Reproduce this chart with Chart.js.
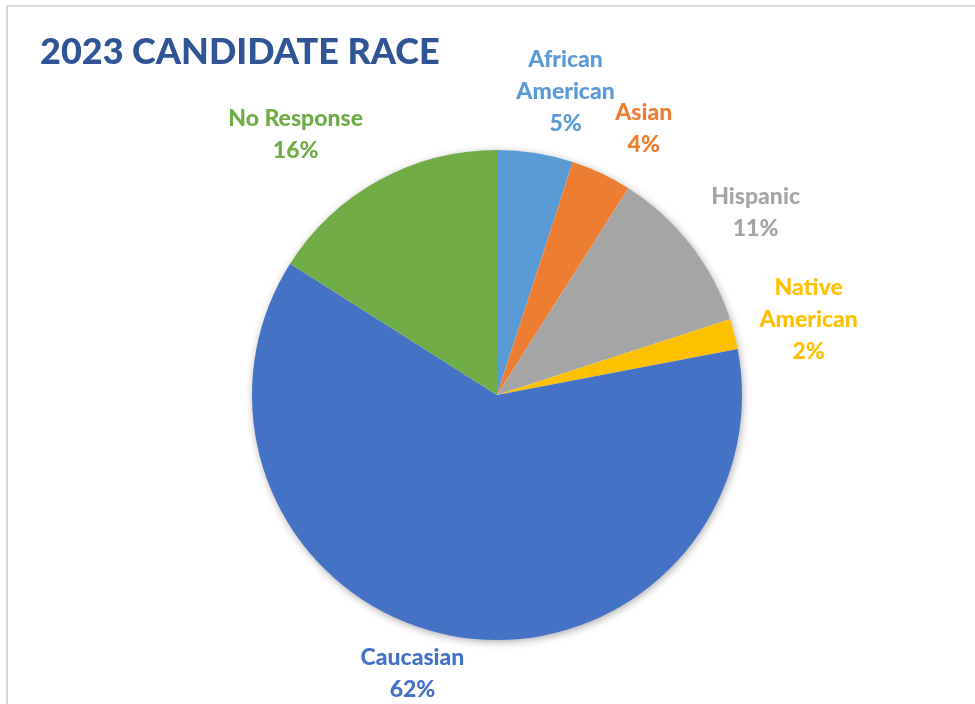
<!DOCTYPE html>
<html>
<head>
<meta charset="utf-8">
<script src="https://cdn.jsdelivr.net/npm/chart.js@4/dist/chart.umd.min.js"></script>
<style>
  html, body { margin: 0; padding: 0; background: #fff; overflow: hidden; }
  .frame {
    position: absolute; left: 6px; top: 5px;
    width: 1200px; height: 900px;
    border: 2px solid #d9d9d9;
  }
  #raceChart { position: absolute; left: 0; top: 0; }
</style>
</head>
<body>
<div class="frame"></div>
<canvas id="raceChart" width="975" height="704"></canvas>
<script>
// ---------------- data ----------------
var categories = ["African American", "Asian", "Hispanic", "Native American", "Caucasian", "No Response"];
var shares = [5, 4, 11, 2, 62, 16];
var labelLines = [["African", "American"], ["Asian"], ["Hispanic"], ["Native", "American"], ["Caucasian"], ["No Response"]];
var sliceColors = ["#5B9BD5", "#ED7D31", "#A5A5A5", "#FFC000", "#4472C4", "#70AD47"];

// small nudges for the outside labels (excel "best fit" placement)
var labelNudge = [[21, -4], [26, -7], [22, -7], [17, 0], [-27, -3], [-46, -9]];

var FONT = "Lato, 'Open Sans', sans-serif";

// ---------------- plugins ----------------
// soft shadow under the whole pie
var pieShadow = {
  id: "pieShadow",
  beforeDatasetsDraw: function (chart) {
    var arc = chart.getDatasetMeta(0).data[0];
    if (!arc) return;
    var ctx = chart.ctx;
    ctx.save();
    ctx.shadowColor = "rgba(0,0,0,0.35)";
    ctx.shadowBlur = 9;
    ctx.shadowOffsetX = 1;
    ctx.shadowOffsetY = 2;
    ctx.fillStyle = "#fff";
    ctx.beginPath();
    ctx.arc(arc.x, arc.y, arc.outerRadius - 0.5, 0, Math.PI * 2);
    ctx.fill();
    ctx.restore();
  },
};

// title + category labels outside each slice
var pieLabels = {
  id: "pieLabels",
  afterDatasetsDraw: function (chart) {
    var ctx = chart.ctx;
    var meta = chart.getDatasetMeta(0);
    ctx.save();

    ctx.fillStyle = "#2F5597";
    ctx.font = "900 36px " + FONT;
    ctx.textAlign = "left";
    ctx.textBaseline = "alphabetic";
    ctx.fillText("2023 CANDIDATE RACE", 40, 64);

    ctx.font = "900 23px " + FONT;
    ctx.textAlign = "center";
    ctx.textBaseline = "middle";
    var lineH = 32;
    meta.data.forEach(function (arc, i) {
      var lines = labelLines[i].concat([shares[i] + "%"]);
      var w = 0;
      lines.forEach(function (t) { w = Math.max(w, ctx.measureText(t).width); });
      var h = lines.length * lineH;
      var mid = (arc.startAngle + arc.endAngle) / 2;
      var dx = Math.cos(mid), dy = Math.sin(mid);
      var r = arc.outerRadius + 10;
      var cx = arc.x + r * dx + dx * w / 2 + labelNudge[i][0];
      var cy = arc.y + r * dy + dy * h / 2 + labelNudge[i][1];
      ctx.fillStyle = sliceColors[i];
      lines.forEach(function (t, k) {
        ctx.fillText(t, cx, cy - h / 2 + lineH / 2 + k * lineH);
      });
    });
    ctx.restore();
  },
};

// ---------------- chart ----------------
var ctx = document.getElementById("raceChart").getContext("2d");
var raceChart = new Chart(ctx, {
  type: "pie",
  data: {
    labels: categories,
    datasets: [
      {
        data: shares,
        backgroundColor: sliceColors,
        borderWidth: 0,
      },
    ],
  },
  options: {
    responsive: false,
    animation: false,
    layout: {
      padding: { left: 252, right: 233, top: 150, bottom: 64 },
    },
    plugins: {
      legend: { display: false },
      tooltip: { enabled: false },
    },
  },
  plugins: [pieShadow, pieLabels],
});
</script>
</body>
</html>
